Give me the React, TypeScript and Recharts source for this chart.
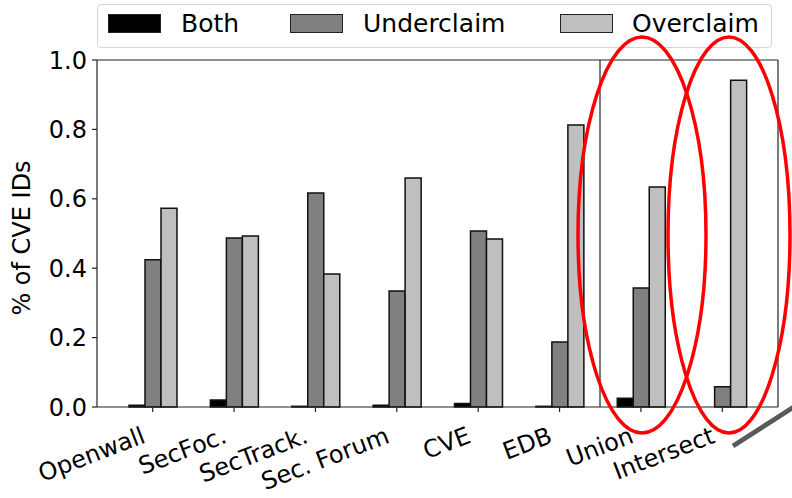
import React from "react";
import { BarChart, Bar, XAxis, YAxis, Legend } from "recharts";

const categories = ["Openwall", "SecFoc.", "SecTrack.", "Sec. Forum", "CVE", "EDB", "Union", "Intersect"];
const both = [0.005, 0.02, 0.002, 0.005, 0.01, 0.002, 0.025, 0.0];
const underclaim = [0.424, 0.487, 0.617, 0.334, 0.507, 0.187, 0.343, 0.058];
const overclaim = [0.573, 0.493, 0.383, 0.66, 0.484, 0.813, 0.634, 0.942];
const yTicks = [0, 0.2, 0.4, 0.6, 0.8, 1.0];

const series = [
  { key: "both", name: "Both", color: "#000000" },
  { key: "under", name: "Underclaim", color: "#808080" },
  { key: "over", name: "Overclaim", color: "#bfbfbf" },
];

// legend item offsets inside the box (swatch left, text left)
const legendSlots = [
  [10, 83],
  [192, 265],
  [462, 534],
];

const data = categories.map((name, i) => ({
  name,
  both: both[i],
  under: underclaim[i],
  over: overclaim[i],
}));

const FONT = "'DejaVu Sans', sans-serif";

const XTick = ({ x, y, payload }: any) => {
  const ax = x - 6;
  const ay = y + 28;
  return (
    <text
      x={ax}
      y={ay}
      textAnchor="end"
      fontSize={24}
      fontFamily={FONT}
      fill="#000"
      transform={`rotate(-21, ${ax}, ${ay})`}
    >
      {payload.value}
    </text>
  );
};

const YLabel = () => (
  <text
    x={30}
    y={238}
    textAnchor="middle"
    fontSize={24}
    fontFamily={FONT}
    fill="#000"
    transform="rotate(-90, 30, 238)"
  >
    % of CVE IDs
  </text>
);

const LegendBox = () => (
  <div
    style={{
      position: "absolute",
      left: 97,
      top: 4,
      width: 675,
      height: 44,
      boxSizing: "border-box",
      border: "1px solid #d4d4d4",
      borderRadius: 4,
      background: "#fff",
      fontFamily: FONT,
      fontSize: 25,
      color: "#000",
    }}
  >
    {series.map((s, i) => (
      <React.Fragment key={s.key}>
        <div
          style={{
            position: "absolute",
            left: legendSlots[i][0],
            top: 9,
            width: 53,
            height: 19,
            boxSizing: "border-box",
            background: s.color,
            border: "1.5px solid #222",
          }}
        />
        <span style={{ position: "absolute", left: legendSlots[i][1], top: 4, lineHeight: "30px", whiteSpace: "nowrap" }}>
          {s.name}
        </span>
      </React.Fragment>
    ))}
  </div>
);

export default function App() {
  return (
    <div style={{ position: "absolute", left: 0, top: 0, width: 792, height: 498, background: "#fff" }}>
      <BarChart
        width={792}
        height={498}
        data={data}
        margin={{ top: 60, right: 14, bottom: 0, left: 0 }}
        barGap={0}
        barSize={16}
      >
        <XAxis
          dataKey="name"
          interval={0}
          height={91}
          padding={{ left: 15, right: 15 }}
          tick={<XTick />}
          tickSize={5}
          axisLine={{ stroke: "#222", strokeWidth: 1.2 }}
          tickLine={{ stroke: "#222", strokeWidth: 1.2 }}
        />
        <YAxis
          width={97}
          domain={[0, 1]}
          ticks={yTicks}
          tickFormatter={(v: number) => v.toFixed(1)}
          tickSize={5}
          tickMargin={5}
          tick={{ fontSize: 24, fontFamily: FONT, fill: "#000" }}
          axisLine={{ stroke: "#222", strokeWidth: 1.2 }}
          tickLine={{ stroke: "#222", strokeWidth: 1.2 }}
          label={<YLabel />}
        />
        <Legend content={<LegendBox />} wrapperStyle={{ position: "absolute", left: 0, top: 0, width: 0, height: 0 }} />
        {series.map((s) => (
          <Bar
            key={s.key}
            dataKey={s.key}
            name={s.name}
            fill={s.color}
            stroke="#111"
            strokeWidth={1.5}
            isAnimationActive={false}
          />
        ))}
      </BarChart>
      <svg
        width={792}
        height={498}
        style={{ position: "absolute", left: 0, top: 0, pointerEvents: "none" }}
      >
        <line x1={97} y1={60} x2={778} y2={60} stroke="#222" strokeWidth={1.2} />
        <line x1={778} y1={60} x2={778} y2={407} stroke="#222" strokeWidth={1.2} />
        <line x1={600} y1={60} x2={600} y2={407} stroke="#222" strokeWidth={1.2} />
        <ellipse cx={642} cy={235} rx={64} ry={198} fill="none" stroke="#ff0000" strokeWidth={3.5} />
        <ellipse cx={729} cy={235} rx={61} ry={198} fill="none" stroke="#ff0000" strokeWidth={3.5} />
        <line x1={733} y1={446} x2={800} y2={403} stroke="#595959" strokeWidth={5} />
      </svg>
    </div>
  );
}
